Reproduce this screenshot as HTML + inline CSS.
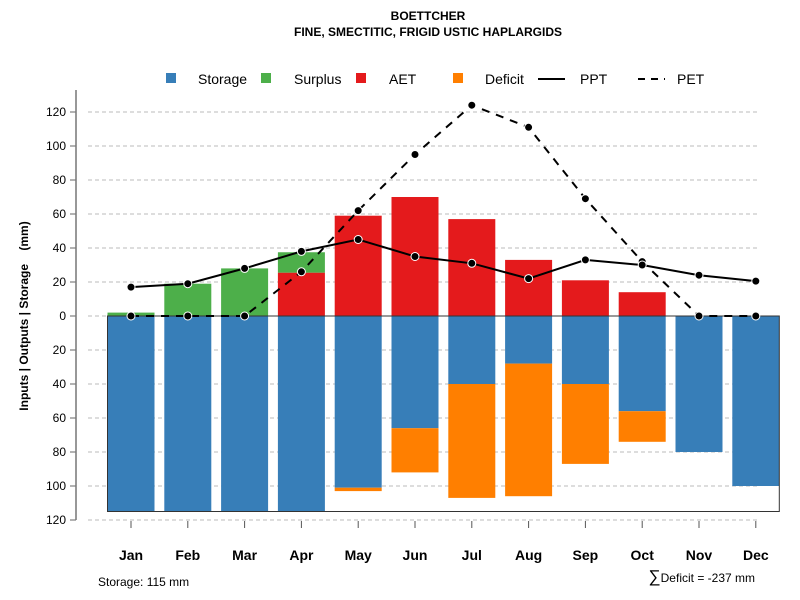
<!DOCTYPE html>
<html><head><meta charset="utf-8"><style>
body{margin:0;background:#fff}
svg{display:block;font-family:"Liberation Sans",sans-serif}
</style></head><body>
<svg id="c" width="800" height="600" viewBox="0 0 800 600">
<text x="428" y="20" text-anchor="middle" font-size="12" font-weight="bold">BOETTCHER</text>
<text x="428" y="36" text-anchor="middle" font-size="12" font-weight="bold">FINE, SMECTITIC, FRIGID USTIC HAPLARGIDS</text>
<g id="legend" font-size="14">
<rect x="166" y="73" width="10" height="10" fill="#377EB8"/>
<text x="198" y="84">Storage</text>
<rect x="261" y="73" width="10" height="10" fill="#4DAF4A"/>
<text x="294" y="84">Surplus</text>
<rect x="356" y="73" width="10" height="10" fill="#E41A1C"/>
<text x="389" y="84">AET</text>
<rect x="453" y="73" width="10" height="10" fill="#FF7F00"/>
<text x="485" y="84">Deficit</text>
<line x1="538" y1="79" x2="565" y2="79" stroke="#000" stroke-width="2"/>
<text x="580" y="84">PPT</text>
<line x1="638" y1="79" x2="665" y2="79" stroke="#000" stroke-width="2" stroke-dasharray="7,6"/>
<text x="677" y="84">PET</text>
</g>
<text x="98" y="586" font-size="12">Storage: 115 mm</text>
<text x="755" y="582" text-anchor="end" font-size="12"><tspan font-size="17">∑</tspan>Deficit = -237 mm</text>
<text transform="translate(28,316) rotate(-90)" text-anchor="middle" font-size="12" font-weight="bold" xml:space="preserve" style="white-space:pre">Inputs | Outputs | Storage    (mm)</text>
</svg>
<script>
const months=["Jan","Feb","Mar","Apr","May","Jun","Jul","Aug","Sep","Oct","Nov","Dec"];
const storage=[115,115,115,115,101,66,40,28,40,56,80,100];
const deficit=[0,0,0,0,2,26,67,78,47,18,0,0];
const aet=[0,0,0,25.5,59,70,57,33,21,14,0,0];
const surplus=[2,19,28,12,0,0,0,0,0,0,0,0];
const ppt=[17,19,28,38,45,35,31,22,33,30,24,20.5];
const pet=[0,0,0,26,62,95,124,111,69,32,0,0];
const yTicks=[120,100,80,60,40,20,0,20,40,60,80,100,120];
const yVals=[120,100,80,60,40,20,0,-20,-40,-60,-80,-100,-120];
const maxStorage=115;

const NS="http://www.w3.org/2000/svg";
const svg=document.getElementById('c');
const y=v=>316-v*1.7;
const x=i=>131+i*56.8;
const bw=47;
function mk(t,a,parent){const e=document.createElementNS(NS,t);for(const k in a)e.setAttribute(k,a[k]);(parent||svg).appendChild(e);return e;}

yVals.forEach((v,i)=>{
  const g=mk('line',{x1:88,x2:757,y1:y(v),y2:y(v),stroke:'#bbb','stroke-dasharray':'4,3'});
  
  
  const t=mk('line',{x1:70,x2:76,y1:y(v),y2:y(v),stroke:'#666'});
  
  
  const l=mk('text',{x:66,y:y(v)+4,'text-anchor':'end','font-size':12});
  l.textContent=yTicks[i];
  
  
});
const ax=mk('line',{x1:76,x2:76,y1:90,y2:y(-120),stroke:'#777','stroke-width':1.5});



months.forEach((m,i)=>{
  const x0=x(i)-bw/2;
  const s=mk('rect',{x:x0,y:y(0),width:bw,height:storage[i]*1.7,fill:'#377EB8'});
  
  
  if(deficit[i]>0){
    const d=mk('rect',{x:x0,y:y(-storage[i]),width:bw,height:deficit[i]*1.7,fill:'#FF7F00'});
    
    
  }
  if(aet[i]>0){
    const a=mk('rect',{x:x0,y:y(aet[i]),width:bw,height:aet[i]*1.7,fill:'#E41A1C'});
    
    
  }
  if(surplus[i]>0){
    const p=mk('rect',{x:x0,y:y(aet[i]+surplus[i]),width:bw,height:surplus[i]*1.7,fill:'#4DAF4A'});
    
    
  }
  const tk=mk('line',{x1:x(i),x2:x(i),y1:521,y2:528,stroke:'#555'});
  
  
  const lb=mk('text',{x:x(i),y:560,'text-anchor':'middle','font-size':14,'font-weight':'bold'});
  lb.textContent=m;
  
  
});
const bx=mk('rect',{x:x(0)-bw/2,y:y(0),width:x(11)+bw/2-(x(0)-bw/2),height:maxStorage*1.7,fill:'none',stroke:'#333','stroke-width':1});



function series(vals,dash,name){
  const p=mk('polyline',{points:vals.map((v,i)=>x(i)+','+y(v)).join(' '),fill:'none',stroke:'#000','stroke-width':2,'stroke-dasharray':dash});
  
  
  vals.forEach((v,i)=>{
    const c=mk('circle',{cx:x(i),cy:y(v),r:4,fill:'#000',stroke:'#fff','stroke-width':1});
    
    
  });
}
series(pet,'8,7','pet');
series(ppt,'none','ppt');
</script>
</body></html>
